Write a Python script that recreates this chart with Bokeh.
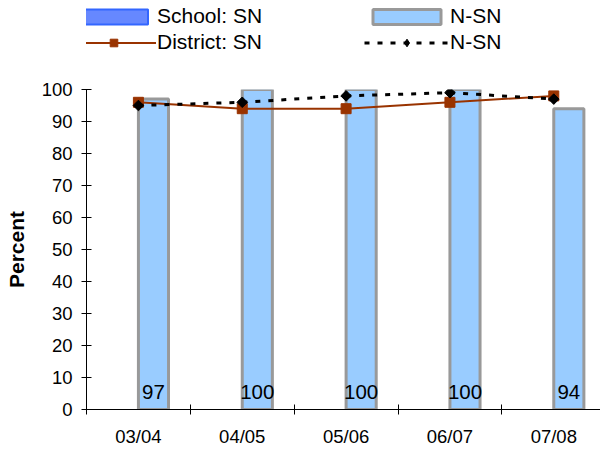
import math
from bokeh.plotting import figure
from bokeh.layouts import column
from bokeh.models import (ColumnDataSource, Range1d, FixedTicker, Legend, LegendItem)
from bokeh.embed import file_html
from bokeh.resources import INLINE

categories = ["03/04", "04/05", "05/06", "06/07", "07/08"]
school_sn = [0, 0, 0, 0, 0]          # School: SN bars are not drawn in the chart
school_nsn = [97, 100, 100, 100, 94]
district_sn = [96, 94, 94, 96, 98]
district_nsn = [95, 96, 98, 99, 97]
y_ticks = [0, 10, 20, 30, 40, 50, 60, 70, 80, 90, 100]

FONT = "Liberation Sans"
BAR_W = 0.29
SN_FILL, SN_LINE = "#6688FF", "#3366FF"
NSN_FILL, NSN_LINE = "#99CCFF", "#999999"
DIST_C = "#993300"

idx = list(range(len(categories)))
centers = [i + 0.5 for i in idx]
bar_x = [c + BAR_W / 2 for c in centers]

# ---------------- main chart ----------------
p = figure(width=600, height=370, output_backend="svg", toolbar_location=None,
           x_range=Range1d(0, 4.95), y_range=Range1d(0, 100),
           min_border_left=86, min_border_right=0, min_border_top=10,
           min_border_bottom=40)
p.outline_line_color = None
p.xgrid.visible = False
p.ygrid.visible = False

src_bar = ColumnDataSource(dict(x=bar_x, top=school_nsn, label=[str(v) for v in school_nsn]))
p.vbar(x="x", top="top", width=BAR_W, source=src_bar,
       fill_color=NSN_FILL, line_color=NSN_LINE, line_width=3)

p.text(x="x", y=0, text="label", source=src_bar, text_align="center",
       text_baseline="alphabetic", y_offset=-17.5, text_font_size="20.5px",
       text_font={"value": FONT}, text_color="black")

src_d = ColumnDataSource(dict(x=centers, sn=district_sn, nsn=district_nsn))
p.line(x="x", y="sn", source=src_d, line_color=DIST_C, line_width=2)
p.scatter(x="x", y="sn", source=src_d, marker="square", size=10,
          fill_color=DIST_C, line_color=DIST_C)
p.line(x="x", y="nsn", source=src_d, line_color="black", line_width=3,
       line_dash="5 8")
p.scatter(x="x", y="nsn", source=src_d, marker="square", size=7.5,
          angle=math.pi / 4, fill_color="black", line_color="black")

xa = p.xaxis[0]
xa.ticker = FixedTicker(ticks=centers, minor_ticks=[float(i) for i in range(len(categories) + 1)])
xa.major_label_overrides = {c: lab for c, lab in zip(centers, categories)}
xa.major_tick_in = 0
xa.major_tick_out = 0
xa.minor_tick_in = 5
xa.minor_tick_out = 5
xa.minor_tick_line_color = "black"
xa.axis_line_color = "black"
xa.major_label_standoff = 11
xa.major_label_text_font = FONT
xa.major_label_text_font_size = "18.5px"
xa.major_label_text_color = "black"

ya = p.yaxis[0]
ya.ticker = FixedTicker(ticks=y_ticks, minor_ticks=[])
ya.major_tick_in = 5
ya.major_tick_out = 5
ya.major_label_standoff = 9
ya.major_label_text_font = FONT
ya.major_label_text_font_size = "18.5px"
ya.major_label_text_color = "black"
ya.axis_label = "Percent"
ya.axis_label_text_font = FONT
ya.axis_label_text_font_size = "21px"
ya.axis_label_text_font_style = "bold"
ya.axis_label_text_color = "black"
ya.axis_label_standoff = 11
ya.axis_line_color = "black"

# ---------------- legend strip ----------------
lg = figure(width=600, height=79, output_backend="svg", toolbar_location=None,
            x_range=Range1d(0, 1), y_range=Range1d(0, 1),
            x_axis_type=None, y_axis_type=None,
            min_border_left=0, min_border_right=0, min_border_top=0,
            min_border_bottom=0)
lg.outline_line_color = None
lg.xgrid.visible = False
lg.ygrid.visible = False

src_l = ColumnDataSource(dict(x=centers, sn=school_sn, nsn=school_nsn,
                              dsn=district_sn, dnsn=district_nsn))
l_sn = lg.vbar(x="x", top="sn", width=BAR_W, source=src_l, visible=False,
               fill_color=SN_FILL, line_color=SN_LINE, line_width=2)
l_nsn = lg.vbar(x="x", top="nsn", width=BAR_W, source=src_l, visible=False,
                fill_color=NSN_FILL, line_color=NSN_LINE, line_width=3)
l_dl = lg.line(x="x", y="dsn", source=src_l, visible=False,
               line_color=DIST_C, line_width=2)
l_ds = lg.scatter(x="x", y="dsn", source=src_l, visible=False, marker="square",
                  size=10, fill_color=DIST_C, line_color=DIST_C)
l_nl = lg.line(x="x", y="dnsn", source=src_l, visible=False,
               line_color="black", line_width=3, line_dash="5 8")
l_ns = lg.scatter(x="x", y="dnsn", source=src_l, visible=False, marker="diamond",
                  size=12, fill_color="black", line_color="black")

legend = Legend(items=[
    LegendItem(label="School: SN", renderers=[l_sn]),
    LegendItem(label="N-SN", renderers=[l_nsn]),
    LegendItem(label="District: SN", renderers=[l_dl, l_ds]),
    LegendItem(label="N-SN", renderers=[l_nl, l_ns]),
], orientation="horizontal", ncols=2,
    location=(-15, 25), border_line_color=None, background_fill_alpha=0,
    inactive_fill_alpha=0, click_policy="none",
    padding=0, margin=0, spacing=2, glyph_width=85, glyph_height=19,
    label_standoff=1, label_width=205, label_text_font=FONT,
    label_text_font_size="21px", label_text_color="black")
lg.add_layout(legend, "center")

layout = column(lg, p, spacing=0)
open("out.html", "w").write(file_html(layout, INLINE))
